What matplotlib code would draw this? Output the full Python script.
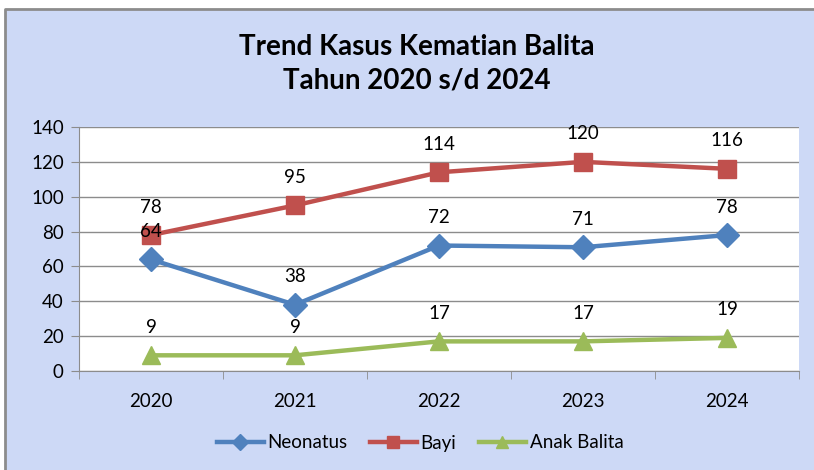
import matplotlib.pyplot as plt
from matplotlib.patches import Rectangle
from matplotlib.lines import Line2D

years = ['2020', '2021', '2022', '2023', '2024']
neonatus = [64, 38, 72, 71, 78]
bayi = [78, 95, 114, 120, 116]
anak_balita = [9, 9, 17, 17, 19]

series = [
    ('Neonatus', neonatus, '#4F81BD', 'D', 12.5),
    ('Bayi', bayi, '#C0504D', 's', 12.5),
    ('Anak Balita', anak_balita, '#9BBB59', '^', 13),
]

plt.rcParams['font.family'] = ['Lato', 'DejaVu Sans']

W, H = 814, 470
fig = plt.figure(figsize=(W / 100, H / 100), dpi=100)
fig.patch.set_facecolor('white')

# chart area background, frame only on the left and top edges
fig.patches.append(Rectangle((5 / W, 0), 1.0, 1 - 9 / H,
                             transform=fig.transFigure, facecolor='#CDD9F6',
                             edgecolor='none', zorder=-1))
fig.lines.append(Line2D([5 / W, 5 / W, 1.0], [0, 1 - 9 / H, 1 - 9 / H],
                        transform=fig.transFigure, color='#8C8C8C', linewidth=2))

ax = fig.add_axes([79 / W, 1 - 371 / H, (799 - 79) / W, (371 - 127) / H])
ax.set_facecolor('white')

x = list(range(len(years)))
for name, vals, color, marker, ms in series:
    ax.plot(x, vals, color=color, linewidth=3.2, marker=marker, markersize=ms,
            label=name, clip_on=False, zorder=3)
    for xi, v in zip(x, vals):
        ax.annotate(str(v), (xi, v), xytext=(0, 14), textcoords='offset points',
                    ha='center', va='bottom', fontsize=13.5, color='black', zorder=4)

ax.set_xlim(-0.5, len(years) - 0.5)
ax.set_ylim(0, 140)
ax.set_yticks(range(0, 141, 20))
ax.set_xticks(x)
ax.set_xticklabels(years)
ax.set_xticks([i - 0.5 for i in range(len(years) + 1)], minor=True)
ax.tick_params(axis='x', which='major', length=0, pad=16, labelsize=13.5)
ax.tick_params(axis='x', which='minor', length=6, color='#8C8C8C')
ax.tick_params(axis='y', length=6, color='#8C8C8C', labelsize=13.5, pad=5)
ax.grid(axis='y', color='#8C8C8C', linewidth=1)
ax.set_axisbelow(True)
for side in ['top', 'right']:
    ax.spines[side].set_visible(False)
ax.spines['left'].set_color('#8C8C8C')
ax.spines['bottom'].set_color('#8C8C8C')

fig.text(417 / W, 1 - 47 / H, 'Trend Kasus Kematian Balita', ha='center',
         va='center', fontsize=20, fontweight='bold')
fig.text(417 / W, 1 - 80 / H, 'Tahun 2020 s/d 2024', ha='center',
         va='center', fontsize=20, fontweight='bold')

leg = fig.legend(loc='center', bbox_to_anchor=(420 / W, 1 - 443 / H), ncol=3,
                 frameon=False, fontsize=13.5, handlelength=2.5, columnspacing=1.2,
                 handletextpad=0.2, markerscale=0.65)

fig.savefig('out.png', dpi=100, facecolor=fig.get_facecolor())
